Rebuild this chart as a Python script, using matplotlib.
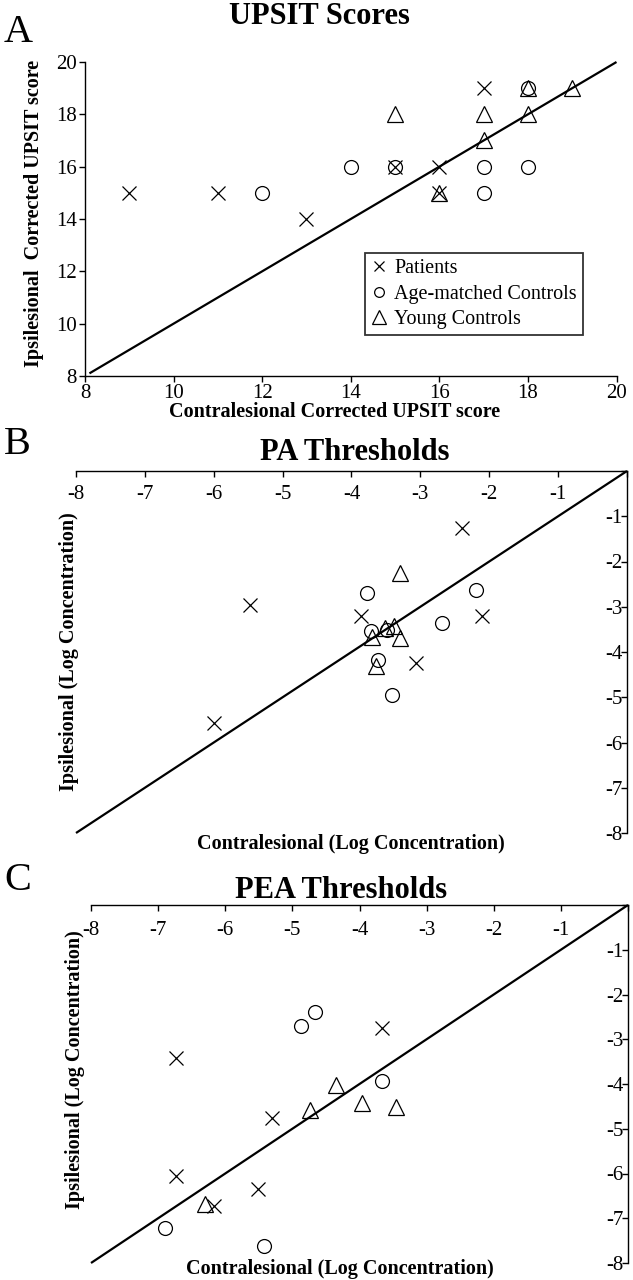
import matplotlib
matplotlib.use("Agg")
import matplotlib.pyplot as plt
from matplotlib.lines import Line2D

plt.rcParams['font.family'] = ['Liberation Serif', 'DejaVu Serif']
plt.rcParams['axes.linewidth'] = 1.0

# ---------------- data ----------------
upsit_pat_x = [9, 11, 13, 15, 16, 16, 17]
upsit_pat_y = [15, 15, 14, 16, 16, 15, 19]
upsit_age_x = [12, 14, 15, 17, 17, 18, 18]
upsit_age_y = [15, 16, 16, 16, 15, 16, 19]
upsit_young_x = [15, 16, 17, 17, 18, 18, 19]
upsit_young_y = [18, 15, 18, 17, 18, 19, 19]

pa_pat_x = [-6.0, -5.47, -3.86, -3.07, -2.39, -2.10]
pa_pat_y = [-5.57, -2.97, -3.20, -4.25, -1.26, -3.20]
pa_age_x = [-3.77, -3.71, -3.61, -3.48, -3.41, -2.68, -2.19]
pa_age_y = [-2.69, -3.53, -4.17, -3.51, -4.94, -3.35, -2.64]
pa_young_x = [-3.70, -3.64, -3.52, -3.39, -3.30, -3.30]
pa_young_y = [-3.66, -4.32, -3.48, -3.42, -3.70, -2.25]

pea_pat_x = [-6.73, -6.73, -6.17, -5.51, -5.31, -3.67]
pea_pat_y = [-3.41, -6.05, -6.72, -6.35, -4.77, -2.75]
pea_age_x = [-6.90, -5.43, -4.875, -4.66, -3.66]
pea_age_y = [-7.22, -7.63, -2.70, -2.39, -3.93]
pea_young_x = [-6.30, -4.74, -4.35, -3.97, -3.46]
pea_young_y = [-6.68, -4.58, -4.02, -4.42, -4.52]

group_labels = ["Patients", "Age-matched Controls", "Young Controls"]
upsit_ticks = [8, 10, 12, 14, 16, 18, 20]
log_ticks = [-8, -7, -6, -5, -4, -3, -2, -1]

# ---------------- figure ----------------
W, H = 633, 1280
fig = plt.figure(figsize=(W / 100, H / 100), dpi=100)


def px_axes(l, r, t, b):
    return fig.add_axes([l / W, 1 - b / H, (r - l) / W, (b - t) / H])


MS_X, MS_O, MS_T = 10, 10, 11.5
MEW = 0.9


def scatter_groups(ax, px, py, ox, oy, tx, ty):
    ax.plot(px, py, linestyle='none', marker='x', ms=MS_X, mew=MEW, color='black',
            clip_on=False, label=group_labels[0])
    ax.plot(ox, oy, linestyle='none', marker='o', ms=MS_O, mew=MEW, mfc='none',
            mec='black', clip_on=False, label=group_labels[1])
    ax.plot(tx, ty, linestyle='none', marker='^', ms=MS_T, mew=MEW, mfc='none',
            mec='black', clip_on=False, label=group_labels[2])


TICK_FS = 15
LABEL_FS = 14.5
TITLE_FS = 22
LETTER_FS = 29

# ---------------- Panel A ----------------
axA = px_axes(85, 616.5, 62, 376)
axA.set_xlim(upsit_ticks[0], upsit_ticks[-1])
axA.set_ylim(upsit_ticks[0], upsit_ticks[-1])
axA.plot([8.1, upsit_ticks[-1]], [8.1, upsit_ticks[-1]], color='black', lw=1.6,
         clip_on=False, solid_capstyle='butt')
scatter_groups(axA, upsit_pat_x, upsit_pat_y, upsit_age_x, upsit_age_y,
               upsit_young_x, upsit_young_y)
axA.spines['top'].set_visible(False)
axA.spines['right'].set_visible(False)
axA.set_xticks(upsit_ticks)
axA.set_yticks(upsit_ticks)
axA.tick_params(direction='out', length=4, width=1, labelsize=TICK_FS, pad=2)
axA.set_xlabel("Contralesional Corrected UPSIT score", fontsize=LABEL_FS,
               fontweight='bold')
axA.set_ylabel("Ipsilesional  Corrected UPSIT score", fontsize=LABEL_FS,
               fontweight='bold')
axA.xaxis.set_label_coords(0.47, -0.083)
axA.yaxis.set_label_coords(-0.077, 0.517)

handles = [
    Line2D([], [], linestyle='none', marker='x', ms=MS_X * 0.7, mew=MEW, color='black'),
    Line2D([], [], linestyle='none', marker='o', ms=MS_O * 0.7, mew=MEW, mfc='none', mec='black'),
    Line2D([], [], linestyle='none', marker='^', ms=MS_T * 0.9, mew=MEW, mfc='none', mec='black'),
]
leg = axA.legend(handles, group_labels, loc='upper left',
                 bbox_to_anchor=(0.527, 0.392), frameon=True, fancybox=False,
                 edgecolor='black', fontsize=LABEL_FS, handlelength=0.8,
                 handletextpad=0.35, labelspacing=0.32, borderpad=0.3,
                 borderaxespad=0.0)
leg.get_frame().set_linewidth(1.3)

fig.text(319 / W, 1 - 17 / H, "UPSIT Scores", ha='center', va='center',
         fontsize=TITLE_FS, fontweight='bold')
fig.text(4 / W, 1 - 32 / H, "A", ha='left', va='center', fontsize=LETTER_FS)


# ---------------- Panels B & C ----------------
def log_panel(ax, px, py, ox, oy, tx, ty, title, title_xy,
              xlab_coords, ylab_coords, xpad, ypad):
    ax.set_xlim(log_ticks[0], 0)
    ax.set_ylim(log_ticks[0], 0)
    ax.plot([log_ticks[0], 0], [log_ticks[0], 0], color='black', lw=1.6,
            clip_on=False, solid_capstyle='butt')
    scatter_groups(ax, px, py, ox, oy, tx, ty)
    ax.spines['left'].set_visible(False)
    ax.spines['bottom'].set_visible(False)
    ax.xaxis.tick_top()
    ax.yaxis.tick_right()
    ax.set_xticks(log_ticks + [0])
    ax.set_xticklabels([str(v) for v in log_ticks] + [""])
    ax.set_yticks(log_ticks + [0])
    ax.set_yticklabels([str(v) for v in log_ticks] + [""])
    ax.tick_params(axis='x', direction='in', length=4, width=1,
                   labelsize=TICK_FS, pad=xpad)
    ax.tick_params(axis='y', direction='in', length=4, width=1,
                   labelsize=TICK_FS, pad=ypad)
    for lbl in ax.get_xticklabels():
        lbl.set_verticalalignment('top')
    for lbl in ax.get_yticklabels():
        lbl.set_horizontalalignment('right')
    ax.xaxis.set_label_position('bottom')
    ax.yaxis.set_label_position('left')
    ax.set_xlabel("Contralesional (Log Concentration)", fontsize=LABEL_FS,
                  fontweight='bold')
    ax.set_ylabel("Ipsilesional (Log Concentration)", fontsize=LABEL_FS,
                  fontweight='bold')
    ax.xaxis.set_label_coords(*xlab_coords)
    ax.yaxis.set_label_coords(*ylab_coords)
    fig.text(title_xy[0] / W, 1 - title_xy[1] / H, title, ha='center',
             va='center', fontsize=TITLE_FS, fontweight='bold')


axB = px_axes(76, 627, 471, 833)
log_panel(axB, pa_pat_x, pa_pat_y, pa_age_x, pa_age_y, pa_young_x, pa_young_y,
          "PA Thresholds", (355, 452), (0.499, -0.003), (0.005, 0.5),
          -10, -3.5)
fig.text(4 / W, 1 - 445 / H, "B", ha='left', va='center', fontsize=LETTER_FS)

axC = px_axes(91, 628, 905, 1263)
log_panel(axC, pea_pat_x, pea_pat_y, pea_age_x, pea_age_y, pea_young_x,
          pea_young_y, "PEA Thresholds", (341, 890), (0.464, 0.012),
          (-0.011, 0.539), -11.5, -3.5)
fig.text(4 / W, 1 - 880 / H, "C", ha='left', va='center', fontsize=LETTER_FS)

fig.savefig("out.png", dpi=100)
